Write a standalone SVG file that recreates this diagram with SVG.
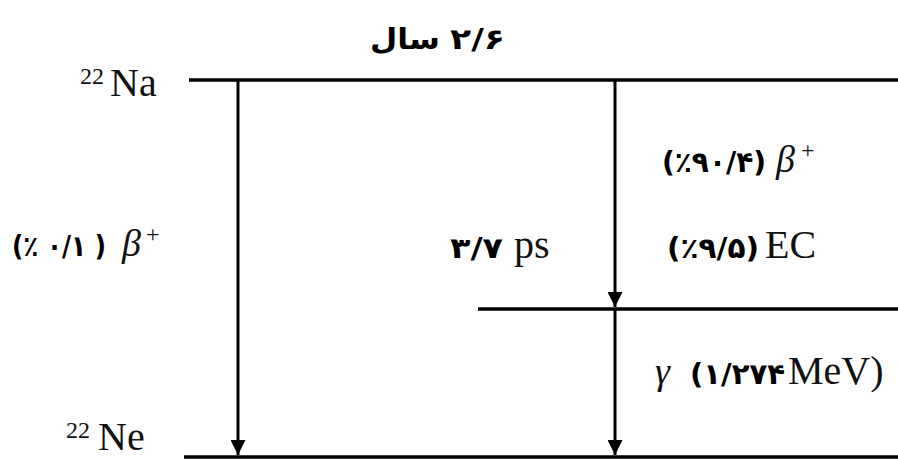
<svg xmlns="http://www.w3.org/2000/svg" width="898" height="459" viewBox="0 0 898 459">
  <style>
    .lvl { stroke: #000; stroke-width: 3.5; fill: none; }
    .tr { stroke: #000; stroke-width: 3; fill: none; }
    .lat { font-family: "Liberation Serif", "Times New Roman", serif; font-size: 40px; fill: #111; }
    .sup { font-family: "Liberation Serif", "Times New Roman", serif; font-size: 24px; fill: #111; }
    .grk { font-family: "Liberation Serif", "Times New Roman", serif; font-style: italic; font-size: 38px; fill: #111; }
    .fa { font-family: "DejaVu Sans", sans-serif; font-weight: bold; font-size: 29px; fill: #000; }
    .dig { unicode-bidi: bidi-override; direction: ltr; }
  </style>
  <defs>
    <marker id="ah" viewBox="0 0 10 10" refX="10" refY="5" markerWidth="5" markerHeight="5" orient="auto" markerUnits="strokeWidth">
      <path d="M0,0 L10,5 L0,10 z" fill="#000"/>
    </marker>
  </defs>

  <!-- energy levels -->
  <g id="level-na22">
    <line class="lvl" x1="189" y1="80" x2="898" y2="80"/>
    <text class="sup" x="80" y="84">22</text>
    <text class="lat" x="110" y="96">Na</text>
  </g>
  <g id="level-excited">
    <line class="lvl" x1="478" y1="309" x2="898" y2="309"/>
  </g>
  <g id="level-ne22">
    <line class="lvl" x1="184" y1="457" x2="898" y2="457"/>
    <text class="sup" x="66" y="438">22</text>
    <text class="lat" x="98" y="450" font-size="38">Ne</text>
  </g>

  <!-- half-life -->
  <g id="halflife">
    <text class="fa" x="370" y="49" textLength="70" lengthAdjust="spacingAndGlyphs">سال</text>
    <text class="fa dig" x="450" y="49" textLength="55" lengthAdjust="spacingAndGlyphs">۲/۶</text>
  </g>

  <!-- transitions -->
  <g id="connectors">
    <line class="tr" x1="238" y1="80" x2="238" y2="455" marker-end="url(#ah)"/>
    <line class="tr" x1="615" y1="80" x2="615" y2="307" marker-end="url(#ah)"/>
    <line class="tr" x1="615" y1="309" x2="615" y2="455" marker-end="url(#ah)"/>
  </g>

  <!-- labels -->
  <g id="label-beta-direct">
    <text class="fa dig" x="12" y="256" textLength="94" lengthAdjust="spacingAndGlyphs">(٪ ۰/۱ )</text>
    <text class="grk" x="122" y="256">β</text>
    <text class="sup" x="146" y="242">+</text>
  </g>
  <g id="label-beta-excited">
    <text class="fa dig" x="662" y="172" textLength="104" lengthAdjust="spacingAndGlyphs">(٪۹۰/۴)</text>
    <text class="grk" x="776" y="172">β</text>
    <text class="sup" x="801" y="158">+</text>
  </g>
  <g id="label-ec">
    <text class="fa dig" x="667" y="258" textLength="92" lengthAdjust="spacingAndGlyphs">(٪۹/۵)</text>
    <text class="lat" x="765" y="258">EC</text>
  </g>
  <g id="label-lifetime">
    <text class="fa dig" x="450" y="258" textLength="53" lengthAdjust="spacingAndGlyphs">۳/۷</text>
    <text class="lat" x="514" y="258">ps</text>
  </g>
  <g id="label-gamma">
    <text class="grk" x="655" y="384">γ</text>
    <text class="fa dig" x="690" y="384" textLength="95" lengthAdjust="spacingAndGlyphs">(۱/۲۷۴</text>
    <text class="lat" x="788" y="384">MeV)</text>
  </g>
</svg>
